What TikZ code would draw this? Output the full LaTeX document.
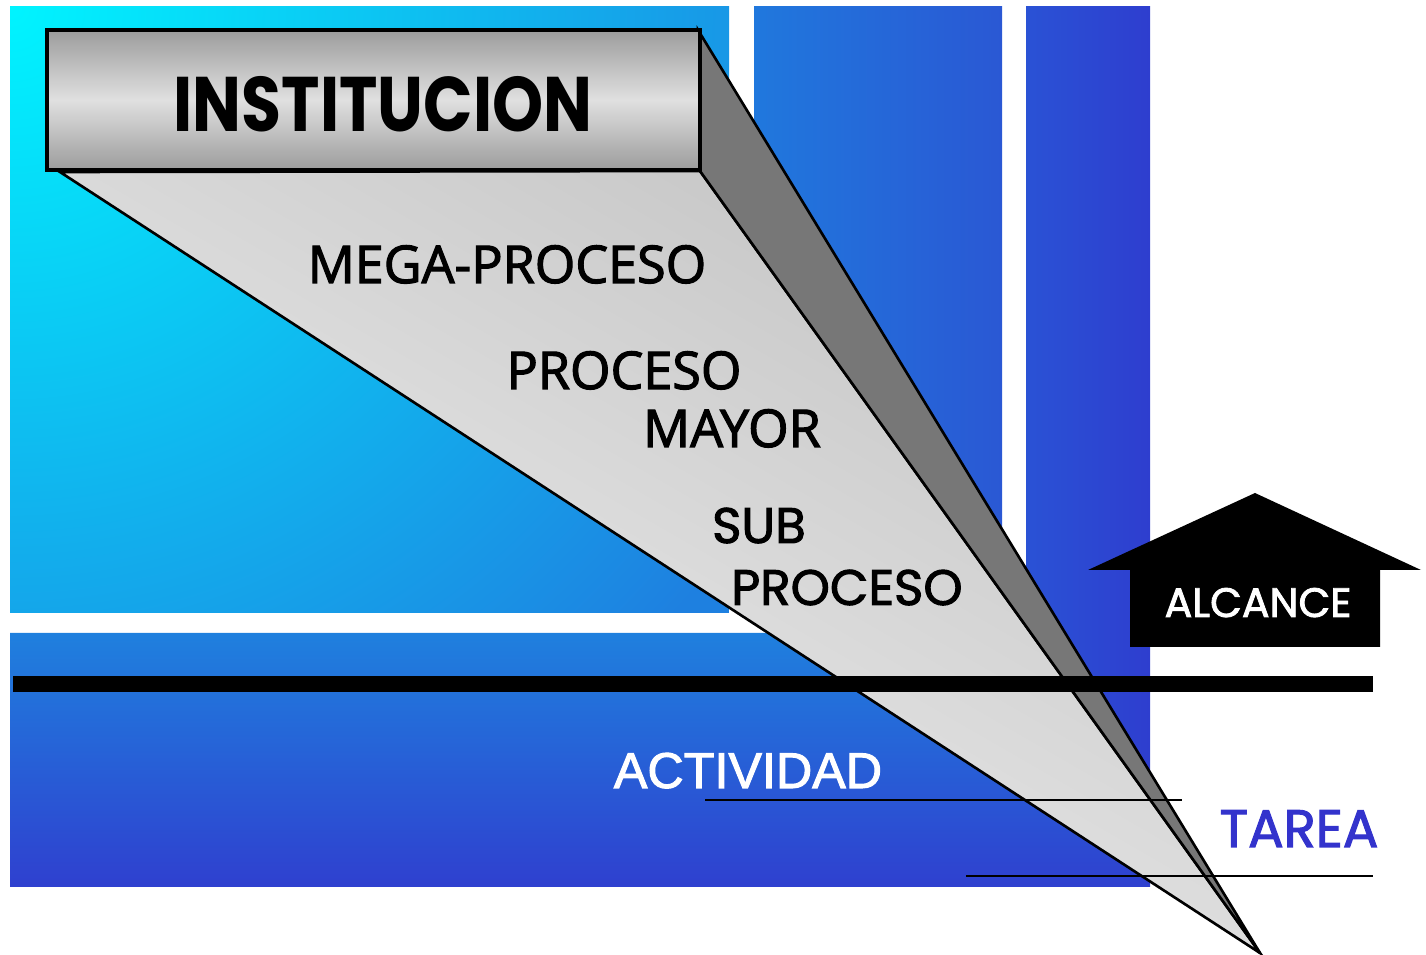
\documentclass[tikz,border=0pt]{standalone}
\usepackage{fontspec}
\newfontfamily\poppins{Poppins}
\newfontfamily\poppinsheavy{Poppins}[FakeBold=2]
\newfontfamily\opensans{Open Sans}[FakeBold=2.2]
\newfontfamily\arialike{Liberation Sans}[FakeBold=2]
\definecolor{glowCyan}{HTML}{00F4FF}
\definecolor{glowBlue}{HTML}{1E80E0}
\definecolor{midBlueL}{HTML}{2078DD}
\definecolor{midBlueR}{HTML}{2A58D4}
\definecolor{farBlueL}{HTML}{2A52D5}
\definecolor{farBlueR}{HTML}{2E3ECF}
\definecolor{bandTop}{HTML}{1F80DE}
\definecolor{bandBot}{HTML}{2F40CF}
\definecolor{boxEdge}{HTML}{9C9C9C}
\definecolor{boxMid}{HTML}{E0E0E0}
\definecolor{faceDark}{HTML}{C4C4C4}
\definecolor{faceLight}{HTML}{F2F2F2}
\definecolor{wedgeGray}{HTML}{777777}
\definecolor{tareaBlue}{HTML}{3333CC}

\begin{document}
\begin{tikzpicture}[x=0.01cm,y=-0.01cm,
    face/.style={draw=black,line width=0.75pt,line join=miter},
    word/.style={anchor=base,inner sep=0pt},
    levelfont/.style={font=\opensans\fontsize{14.8}{17}\selectfont},
    subfont/.style={font=\poppinsheavy\fontsize{14.2}{17}\selectfont}]
    \useasboundingbox (0,0) rectangle (1426,955);

    % fondos azules
    \fill[glowBlue] (10,7) rectangle (729,613);
    \begin{scope}
        \clip (10,7) rectangle (729,613);
        \shade[inner color=glowCyan,outer color=glowBlue] (10,7) circle (900);
    \end{scope}
    \shade[left color=midBlueL,right color=midBlueR] (754,7) rectangle (1002,613);
    \shade[left color=farBlueL,right color=farBlueR] (1026,7) rectangle (1150,887);
    \shade[top color=bandTop,bottom color=bandBot]
        (10,633) -- (1066,633) -- (1150,772) -- (1150,887) -- (10,887) -- cycle;

    % piramide
    \coordinate (apex) at (1260,953);
    \coordinate (boxTR) at (698,30);
    \coordinate (boxBR) at (700,171);
    \coordinate (boxBL) at (60,172);
    \shadedraw[face,top color=faceDark,bottom color=faceLight,shading angle=-30]
        (boxBL) -- (boxBR) -- (apex) -- cycle;
    \filldraw[face,fill=wedgeGray] (boxTR) -- (apex) -- (boxBR) -- cycle;
    \shadedraw[line width=0.9pt,top color=boxEdge,bottom color=boxEdge,middle color=boxMid]
        (47,30) rectangle (700,170);
    \node[word,font=\poppins\bfseries\fontsize{22}{26}\selectfont] (inst) at (383,132)
        {\scalebox{0.84}[1]{INSTITUCION}};

    % niveles
    \node[word,levelfont] (mega) at (507,283) {MEGA-PROCESO};
    \node[word,levelfont] (proc) at (624,389) {PROCESO};
    \node[word,levelfont] (mayor) at (732,447) {MAYOR};
    \node[word,subfont] (sub) at (759,543) {SUB};
    \node[word,subfont] (subproc) at (847,605) {PROCESO};

    % lineas de corte
    \fill (13,676) rectangle (1373,692);
    \draw[line width=0.6pt] (705,800) -- (1182,800);
    \draw[line width=0.6pt] (966,876) -- (1373,876);
    \node[word,text=white,font=\arialike\fontsize{14.3}{17}\selectfont] (activ) at (748,788) {ACTIVIDAD};
    \node[word,text=tareaBlue,font=\poppinsheavy\fontsize{15}{18}\selectfont] (tarea) at (1299,847) {TAREA};

    % flecha de alcance
    \fill (1255,493) -- (1421,570) -- (1380,570) -- (1380,647) -- (1130,647) -- (1130,570) -- (1088,570) -- cycle;
    \node[word,text=white,font=\poppinsheavy\fontsize{11.7}{14}\selectfont] (alc) at (1258,617) {ALCANCE};
\end{tikzpicture}
\end{document}
